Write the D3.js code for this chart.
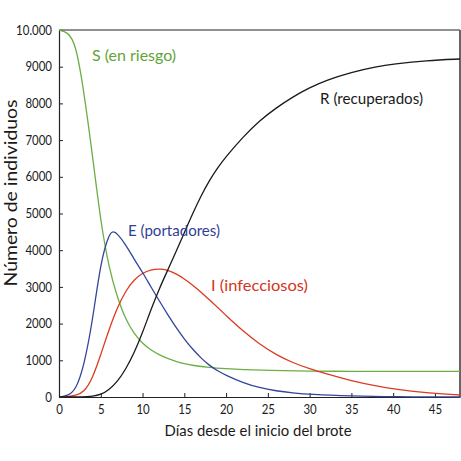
<!DOCTYPE html>
<html>
<head>
<meta charset="utf-8">
<script src="https://cdn.jsdelivr.net/npm/d3@7"></script>
<style>
  body { margin: 0; background: #fff; }
  svg { display: block; }
  text { font-family: Lato, "Noto Sans", sans-serif; }
</style>
</head>
<body>
<div id="chart"></div>
<script>
// days since outbreak and number of individuals
const daysS = [0, 1, 2, 3, 4, 5, 6, 7, 8, 9, 10, 11, 12, 13, 14, 15, 16, 18, 20, 22, 25, 30, 35, 40, 48];
const valsS = [10000, 9950, 9650, 8300, 6600, 4750, 3500, 2700, 2100, 1720, 1460, 1280, 1150, 1050, 970, 910, 860, 800, 770, 745, 725, 705, 700, 700, 700];

const daysE = [0, 1, 2, 3, 4, 5, 6, 6.5, 7, 8, 9, 10, 11, 12, 13, 14, 15, 16, 17, 18, 19, 20, 22, 24, 26, 28, 30, 35, 40, 48];
const valsE = [0, 30, 180, 850, 2050, 3700, 4450, 4520, 4450, 4150, 3750, 3400, 3000, 2620, 2250, 1900, 1580, 1300, 1060, 860, 710, 590, 390, 250, 165, 110, 70, 25, 5, 0];

const daysI = [0, 1, 2, 3, 4, 5, 6, 7, 8, 9, 10, 11, 12, 13, 14, 15, 16, 17, 18, 20, 22, 24, 26, 28, 30, 32, 35, 38, 40, 44, 48];
const valsI = [0, 5, 40, 130, 500, 1150, 1850, 2450, 2900, 3200, 3380, 3470, 3490, 3460, 3360, 3220, 3050, 2860, 2650, 2220, 1800, 1440, 1150, 930, 770, 630, 440, 300, 220, 110, 55];

const daysR = [0, 3, 4, 5, 6, 7, 8, 9, 10, 11, 12, 13, 14, 15, 16, 17, 18, 19, 20, 22, 24, 26, 28, 30, 32, 35, 38, 40, 44, 48];
const valsR = [0, 0, 20, 60, 200, 420, 760, 1200, 1750, 2380, 2950, 3450, 3950, 4480, 5000, 5480, 5900, 6250, 6550, 7080, 7530, 7880, 8180, 8430, 8630, 8850, 9000, 9070, 9170, 9210];

const xTicks = [0, 5, 10, 15, 20, 25, 30, 35, 40, 45];
const yTicks = [0, 1000, 2000, 3000, 4000, 5000, 6000, 7000, 8000, 9000, 10000];
const yTickLabels = ["0", "1000", "2000", "3000", "4000", "5000", "6000", "7000", "8000", "9000", "10.000"];

const seriesNames = ["S (en riesgo)", "E (portadores)", "I (infecciosos)", "R (recuperados)"];

const width = 461, height = 461;
const plotLeft = 59, plotRight = 460, plotTop = 30, plotBottom = 397;

const svg = d3.select("#chart").append("svg")
    .attr("width", width)
    .attr("height", height);

const x = d3.scaleLinear().domain([0, 48]).range([plotLeft, plotRight]);
const y = d3.scaleLinear().domain([0, 10000]).range([plotBottom, plotTop]);

// squeeze text a bit, the original uses a narrow typeface
function squeeze(sel, factor) {
  sel.each(function() {
    const w = this.getComputedTextLength();
    d3.select(this)
        .attr("textLength", w * factor)
        .attr("lengthAdjust", "spacingAndGlyphs");
  });
}

// frame (top + right)
svg.append("line")
    .attr("x1", plotLeft).attr("x2", plotRight)
    .attr("y1", plotTop).attr("y2", plotTop)
    .attr("stroke", "#222").attr("stroke-width", 1);
svg.append("line")
    .attr("x1", plotRight).attr("x2", plotRight)
    .attr("y1", plotTop).attr("y2", plotBottom)
    .attr("stroke", "#666").attr("stroke-width", 2);

// axes, ticks pointing inward
svg.append("g")
    .attr("transform", "translate(" + plotLeft + ",0)")
    .call(d3.axisLeft(y)
        .tickValues(yTicks)
        .tickFormat(function(d, i) { return yTickLabels[i]; })
        .tickSize(-4)
        .tickSizeOuter(0)
        .tickPadding(7));

svg.append("g")
    .attr("transform", "translate(0," + plotBottom + ")")
    .call(d3.axisBottom(x)
        .tickValues(xTicks)
        .tickSize(-4)
        .tickSizeOuter(0)
        .tickPadding(8));

svg.selectAll(".domain").attr("stroke", "#222").attr("stroke-width", 1.2);
svg.selectAll(".tick line").attr("stroke", "#222");
svg.selectAll(".tick text")
    .attr("font-size", 13)
    .attr("fill", "#1a1a1a")
    .style("font-family", "Lato, 'Noto Sans', sans-serif")
    .call(squeeze, 0.88);

// curves
const line = d3.line()
    .x(function(d) { return x(d[0]); })
    .y(function(d) { return y(d[1]); })
    .curve(d3.curveBasis);

function drawSeries(days, vals, color) {
  svg.append("path")
      .datum(d3.zip(days, vals))
      .attr("fill", "none")
      .attr("stroke", color)
      .attr("stroke-width", 1.3)
      .attr("d", line);
}

drawSeries(daysS, valsS, "#6aaf45");
drawSeries(daysI, valsI, "#dc3b1f");
drawSeries(daysE, valsE, "#34449a");
drawSeries(daysR, valsR, "#1a1a1a");

// series labels, widths as measured on the original
function label(text, px, py, len, color) {
  svg.append("text")
      .attr("x", px).attr("y", py)
      .attr("font-size", 16)
      .attr("fill", color)
      .attr("textLength", len)
      .attr("lengthAdjust", "spacingAndGlyphs")
      .text(text);
}

label(seriesNames[0], 92, 61, 84, "#5fa536");
label(seriesNames[1], 128, 236, 92, "#2f3f95");
label(seriesNames[2], 211, 291, 97, "#d6351b");
label(seriesNames[3], 320, 104, 103, "#1a1a1a");

// axis titles
svg.append("text")
    .attr("x", 258).attr("y", 436)
    .attr("text-anchor", "middle")
    .attr("font-size", 16)
    .attr("fill", "#1a1a1a")
    .attr("textLength", 187)
    .attr("lengthAdjust", "spacingAndGlyphs")
    .text("Días desde el inicio del brote");

svg.append("text")
    .attr("transform", "translate(17,193) rotate(-90)")
    .attr("text-anchor", "middle")
    .attr("font-size", 17)
    .attr("fill", "#1a1a1a")
    .attr("textLength", 187)
    .attr("lengthAdjust", "spacingAndGlyphs")
    .text("Número de individuos");
</script>
</body>
</html>
